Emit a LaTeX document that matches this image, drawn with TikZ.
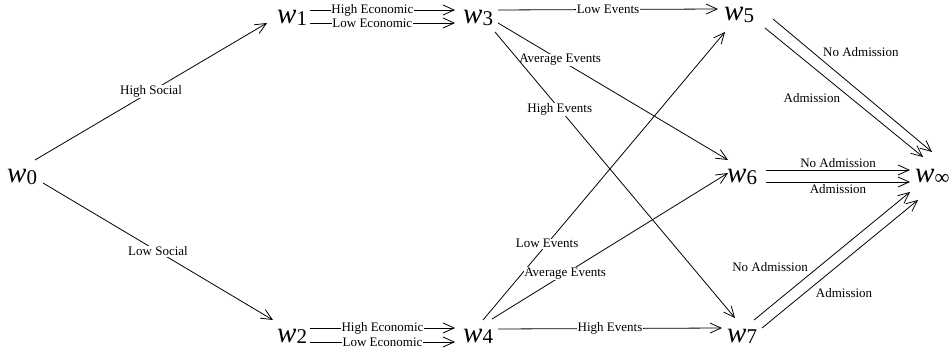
\documentclass[tikz,border=0pt]{standalone}
\usepackage{fontspec}
\setmainfont{Liberation Serif}
\usetikzlibrary{arrows.meta}
\definecolor{TreeInk}{HTML}{000000}
\newcommand{\wstate}[1]{{\fontsize{29}{31}\selectfont\itshape w}\raisebox{-1.5pt}{\fontsize{21}{23}\selectfont #1}}

\begin{document}
\begin{tikzpicture}[x=1pt,y=-1pt,
    wnode/.style={inner sep=0pt,anchor=base west,text=TreeInk},
    arr/.style={draw=TreeInk,line width=0.8pt,
      -{Straight Barb[length=11pt,width=10pt,line width=0.8pt]}},
    onlbl/.style={fill=white,inner sep=0.6pt,text=TreeInk,font=\fontsize{13}{14}\selectfont},
    offlbl/.style={inner sep=2pt,text=TreeInk,font=\fontsize{13}{14}\selectfont}
  ]
    \useasboundingbox (0,0) rectangle (949,355);

    % states
    \node[wnode] (w0) at (7,183) {\wstate{0}};
    \node[wnode] (w1) at (277,24) {\wstate{1}};
    \node[wnode] (w2) at (277,342) {\wstate{2}};
    \node[wnode] (w3) at (463,24) {\wstate{3}};
    \node[wnode] (w4) at (463,342) {\wstate{4}};
    \node[wnode] (w5) at (724,21) {\wstate{5}};
    \node[wnode] (w6) at (727,183) {\wstate{6}};
    \node[wnode] (w7) at (727,342) {\wstate{7}};
    \node[wnode] (winf) at (915,183) {\wstate{∞}};

    % social
    \draw[arr] ([shift={(28,-23)}]w0.base west) -- node[onlbl]{High Social}
      ([shift={(-10,-1)}]w1.base west);
    \draw[arr] ([shift={(36,0)}]w0.base west) -- node[onlbl]{Low Social}
      ([shift={(-4,-22)}]w2.base west);

    % economic
    \draw[arr] ([shift={(33,-14)}]w1.base west) -- node[onlbl,pos=0.43]{High Economic}
      ([shift={(-8,-14)}]w3.base west);
    \draw[arr] ([shift={(33,-1)}]w1.base west) -- node[onlbl,pos=0.43]{Low Economic}
      ([shift={(-8,-1)}]w3.base west);
    \draw[arr] ([shift={(33,-14)}]w2.base west) -- node[onlbl]{High Economic}
      ([shift={(-8,-14)}]w4.base west);
    \draw[arr] ([shift={(33,0)}]w2.base west) -- node[onlbl]{Low Economic}
      ([shift={(-8,0)}]w4.base west);

    % events
    \draw[arr] ([shift={(35,-14)}]w3.base west) -- node[onlbl]{Low Events}
      ([shift={(-6,-12)}]w5.base west);
    \draw[arr] ([shift={(35,-1)}]w3.base west) -- node[onlbl,pos=0.27]{Average Events}
      ([shift={(1,-23)}]w6.base west);
    \draw[arr] ([shift={(32,8)}]w3.base west) -- node[onlbl,pos=0.27]{High Events}
      ([shift={(8,-24)}]w7.base west);
    \draw[arr] ([shift={(20,-22)}]w4.base west) -- node[onlbl,pos=0.265]{Low Events}
      ([shift={(1,11)}]w5.base west);
    \draw[arr] ([shift={(29,-23)}]w4.base west) -- node[onlbl,pos=0.31]{Average Events}
      ([shift={(1,-10)}]w6.base west);
    \draw[arr] ([shift={(35,-13)}]w4.base west) -- node[onlbl]{High Events}
      ([shift={(-5,-14)}]w7.base west);

    % admission
    \draw[arr] ([shift={(49,-2)}]w5.base west) -- node[offlbl,pos=0.3,above right]{No Admission}
      ([shift={(17,-31)}]winf.base west);
    \draw[arr] ([shift={(41,7)}]w5.base west) -- node[offlbl,pos=0.49,below left]{Admission}
      ([shift={(8,-26)}]winf.base west);
    \draw[arr] ([shift={(39,-13)}]w6.base west) -- node[offlbl,above]{No Admission}
      ([shift={(-5,-13)}]winf.base west);
    \draw[arr] ([shift={(39,-1)}]w6.base west) -- node[offlbl,below]{Admission}
      ([shift={(-5,-1)}]winf.base west);
    \draw[arr] ([shift={(27,-22)}]w7.base west) -- node[offlbl,pos=0.36,above left]{No Admission}
      ([shift={(-5,9)}]winf.base west);
    \draw[arr] ([shift={(35,-14)}]w7.base west) -- node[offlbl,pos=0.33,below right]{Admission}
      ([shift={(3,17)}]winf.base west);
  \end{tikzpicture}
\end{document}
